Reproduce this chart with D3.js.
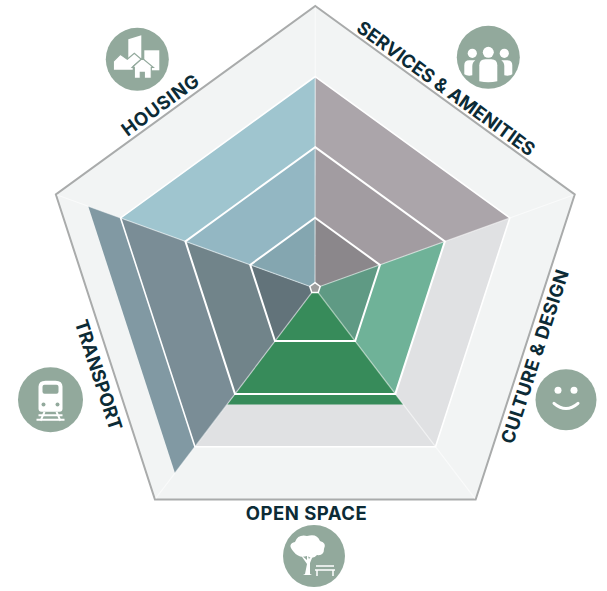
<!DOCTYPE html>
<html lang="en">
<head>
  <meta charset="UTF-8">
  <title>Neighbourhood Radar</title>
  <script src="https://d3js.org/d3.v7.min.js"></script>
  <style>
    html, body { margin: 0; padding: 0; background: #fff; }
    svg { display: block; }
    .label { font-family: Inter, sans-serif; font-weight: 700; font-size: 18.5px; fill: #0c2b36; text-anchor: middle; }
    .icon-shape { fill: #fff; }
  </style>
</head>
<body>
  <svg width="607" height="591"></svg>

  <script>
    const sectors = ["SERVICES & AMENITIES", "CULTURE & DESIGN", "OPEN SPACE", "TRANSPORT", "HOUSING"];
    const scores = [3, 2, 2.2, 3.5, 3];
    const levels = [1, 2, 3, 4];
    // band colours, from inner ring outwards
    const bandColors = [
      ["#8b878b", "#a29ca1", "#aba5aa"],
      ["#5f9a84", "#6fb298"],
      ["#378b5a", "#378b5a", "#378b5a"],
      ["#62737a", "#71848a", "#7a8d96", "#8199a3"],
      ["#84a6b0", "#93b7c3", "#9fc5cf"]
    ];

    const width = 607, height = 591;
    const svg = d3.select("svg");
    const hub = [315, 288.3];
    const frameCentre = [315.3, 278.8], frameR = 272.8;

    // top vertex first, going clockwise; the hub sits a little below the frame centre
    const vertices = d3.range(5).map(i => {
      const a = i * 2 * Math.PI / 5;
      return [frameCentre[0] + frameR * Math.sin(a), frameCentre[1] - frameR * Math.cos(a)];
    });
    const axisX = vertices.map(v => d3.scaleLinear().domain([0, 4]).range([hub[0], v[0]]));
    const axisY = vertices.map(v => d3.scaleLinear().domain([0, 4]).range([hub[1], v[1]]));
    const pt = (axis, value) => [axisX[axis % 5](value), axisY[axis % 5](value)];
    const ring = value => d3.range(5).map(i => pt(i, value));
    const line = d3.line().curve(d3.curveLinearClosed);

    // Frame and the pale level 3 pentagon behind everything
    svg.append("path").attr("d", line(ring(4))).attr("fill", "#f2f4f4")
      .attr("stroke", "#a9abab").attr("stroke-width", 2).attr("stroke-linejoin", "miter");
    svg.append("path").attr("d", line(ring(3))).attr("fill", "#e0e1e3");

    // Sector bands, biggest first so the darker inner ones sit on top
    sectors.forEach((name, s) => {
      const bands = levels.filter(l => l < scores[s]).concat(scores[s]);
      bands.slice().reverse().forEach(l => {
        const idx = bands.indexOf(l);
        svg.append("path")
          .attr("d", line([hub, pt(s, l), pt(s + 1, l)]))
          .attr("fill", bandColors[s][idx]);
      });
    });

    // Spokes
    d3.range(5).forEach(i => {
      svg.append("line")
        .attr("x1", hub[0]).attr("y1", hub[1])
        .attr("x2", pt(i, 3.98)[0]).attr("y2", pt(i, 3.98)[1])
        .attr("stroke", "#fff").attr("stroke-opacity", 0.55).attr("stroke-width", 1.2);
    });

    // Rings
    [1, 2].forEach(l => {
      svg.append("path").attr("d", line(ring(l))).attr("fill", "none")
        .attr("stroke", "#fff").attr("stroke-width", 2);
    });
    svg.append("path").attr("d", line(ring(3))).attr("fill", "none")
      .attr("stroke", "#fff").attr("stroke-width", 1.6);

    // Hub
    svg.append("path").attr("d", line(ring(0.08))).attr("fill", "#9d9d9d")
      .attr("stroke", "#fff").attr("stroke-width", 1.5);

    // Labels, rotated to follow each frame edge
    const labelSpots = [
      { x: 446, y: 88.5, r: 36, ls: 0 },
      { x: 535, y: 356.5, r: -72, ls: 0.35 },
      { x: 306.5, y: 513.5, r: 0, ls: 0.5 },
      { x: 98.5, y: 375, r: 72, ls: 0 },
      { x: 160.5, y: 105, r: -36, ls: 0.6 }
    ];
    sectors.forEach((name, i) => {
      const p = labelSpots[i];
      svg.append("text").attr("class", "label")
        .attr("transform", `translate(${p.x},${p.y}) rotate(${p.r})`)
        .attr("dy", "0.35em")
        .attr("letter-spacing", p.ls)
        .text(name);
    });

    // Icon badges
    const badge = (x, y, r) => {
      const g = svg.append("g").attr("transform", `translate(${x},${y})`);
      g.append("circle").attr("r", r).attr("fill", "#92a99c");
      return g;
    };
    const poly = (g, pts, extra) => {
      const el = g.append("polygon").attr("class", "icon-shape").attr("points", pts);
      if (extra) el.attr("stroke", "#92a99c").attr("stroke-width", 1.2);
      return el;
    };

    // Services: three people
    const people = badge(488.3, 57.3, 31.5);
    [-16, 0, 16].forEach(dx => people.append("circle").attr("class", "icon-shape")
      .attr("cx", dx).attr("cy", dx === 0 ? -5 : -4).attr("r", dx === 0 ? 5.5 : 4.6));
    people.append("path").attr("class", "icon-shape").attr("d", "M-24 17 L-24 8 Q-24 3 -19 3 L-13 3 Q-16 5 -16 9 L-16 18 Q-21 19 -24 17 Z");
    people.append("path").attr("class", "icon-shape").attr("d", "M24 17 L24 8 Q24 3 19 3 L13 3 Q16 5 16 9 L16 18 Q21 19 24 17 Z");
    people.append("path").attr("class", "icon-shape").attr("d", "M-9 24 L-9 8 Q-9 2 -3 2 L3 2 Q9 2 9 8 L9 24 Q0 26 -9 24 Z");

    // Culture: smiley
    const smile = badge(566, 399.8, 30.5);
    [-8, 8].forEach(dx => smile.append("circle").attr("class", "icon-shape").attr("cx", dx).attr("cy", -9.5).attr("r", 3.5));
    smile.append("path").attr("d", "M-12 3.5 Q0 14 12 3.5").attr("fill", "none").attr("stroke", "#fff")
      .attr("stroke-width", 3).attr("stroke-linecap", "round");

    // Transport: train
    const train = badge(50.5, 399.8, 32.5);
    train.append("path").attr("class", "icon-shape").attr("d", "M-12 9 L-12 -13 Q-12 -19 -5 -19 L5 -19 Q12 -19 12 -13 L12 9 Q12 12 9 12 L-9 12 Q-12 12 -12 9 Z");
    train.append("rect").attr("x", -8).attr("y", -15).attr("width", 16).attr("height", 9).attr("rx", 2).attr("fill", "#92a99c");
    [-7, 7].forEach(dx => train.append("circle").attr("cx", dx).attr("cy", 4.7).attr("r", 2).attr("fill", "#92a99c"));
    train.append("path").attr("d", "M-6 12 L-10 21 M6 12 L10 21 M-12 15.5 L12 15.5 M-14 20 L14 20").attr("stroke", "#fff")
      .attr("stroke-width", 2).attr("fill", "none");

    // Open space: tree and bench
    const tree = badge(314, 556, 31);
    tree.append("path").attr("class", "icon-shape")
      .attr("d", "M-21 -5 Q-27 -12 -19 -14 Q-16 -22 -7 -20 Q3 -23 6 -15 Q13 -13 10 -7 Q10 0 3 -1 Q-1 4 -7 0 Q-15 3 -21 -5 Z");
    tree.append("path").attr("class", "icon-shape").attr("d", "M-9 18 L-7 8 L-14 -2 L-7 4 L-7 -2 L-5 3 L0 -3 L-4 7 L-4 18 L-2 19 L-11 19 Z");
    tree.append("path").attr("d", "M2 10 L20 10 M1 14 L21 14 M3 14 L3 20 M19 14 L19 20")
      .attr("stroke", "#fff").attr("stroke-width", 1.5).attr("fill", "none");

    // Housing: cluster of buildings
    const homes = badge(137.3, 59.3, 31.5);
    poly(homes, "-9,-20 4,-24 4,0 -9,0");
    poly(homes, "7,-9 22,-9 22,11 7,11");
    poly(homes, "-24,2 -17,-5 -10,0 -3,-6 4,0 -4,7 -4,11 -24,11", true);
    poly(homes, "-5,8 5,-1 16,8 14,8 14,19 7,19 7,13 3,13 3,19 -3,19 -3,8", true);
  </script>
</body>
</html>
